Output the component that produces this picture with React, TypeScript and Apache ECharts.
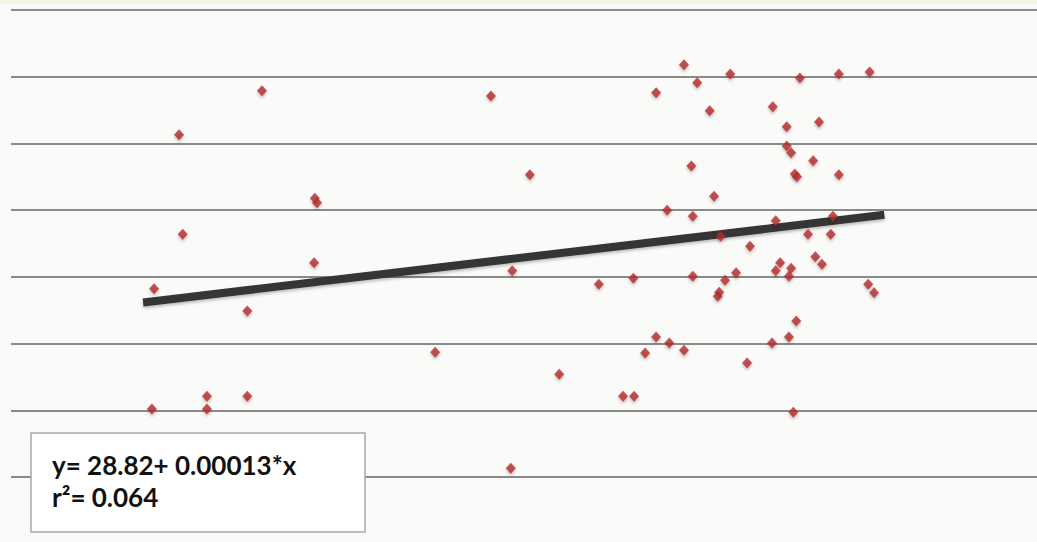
import React, { useEffect, useRef } from "react";
import * as echarts from "echarts";

// Scatter data
const X_VALUES = [
  61400, 72700, 61900, 58000, 79900, 80200, 79800, 70700, 57700, 65200, 65200, 70700,
  96300, 106800, 103900, 109200, 106600, 113200, 118600, 121900, 123400,
  130200, 136500, 132000, 146000, 151300, 155500, 126400, 133700, 142300, 144200, 148600,
  144200, 144800, 147800, 131200, 145300, 145600, 151300, 134300, 127900, 131400, 142700,
  150500, 147100, 150200, 135200, 139200,
  123300, 131400, 135800, 137300, 135000, 134800, 143300, 142700, 144800, 144500, 148100,
  149000, 155300, 156100, 145500, 144500, 142200, 126400, 128200, 124900, 130200, 138800, 145100,
];
const Y_VALUES = [
  61.3, 67.9, 46.4, 38.2, 51.8, 51.1, 42.1, 34.9, 20.2, 22.1, 20.2, 22.1,
  28.7, 40.9, 67.1, 55.3, 11.3, 25.4, 38.9, 22.1, 22.1,
  71.8, 70.4, 69.1, 69.8, 70.4, 70.7, 67.6, 64.9, 65.5, 62.5, 63.2,
  59.6, 58.6, 57.4, 56.6, 55.4, 55.0, 55.3, 52.1, 50.0, 49.1, 48.4,
  49.1, 46.4, 46.4, 46.1, 44.6,
  39.8, 40.1, 39.5, 40.6, 37.7, 37.1, 42.1, 40.9, 41.3, 40.1, 43.0,
  41.9, 38.9, 37.6, 33.4, 31.0, 30.1, 31.0, 30.1, 28.6, 29.0, 27.1, 19.7,
];

// Regression
const INTERCEPT = 28.82;
const SLOPE = 0.00013;
const LINE_X_RANGE = [56500, 157500];
const EQUATION_LINES = ["y= 28.82+ 0.00013*x", "r\u00B2= 0.064"];

// Axis ranges
const X_RANGE = [38500, 178300];
const Y_RANGE = [10, 80];
const Y_INTERVAL = 10;

export default function App() {
  const ref = useRef<HTMLDivElement>(null);

  useEffect(() => {
    if (!ref.current) return;
    const chart = echarts.init(ref.current, undefined, { renderer: "svg" });
    const points = X_VALUES.map((x, i) => [x, Y_VALUES[i]]);
    const linePts = LINE_X_RANGE.map((x) => [x, INTERCEPT + SLOPE * x]);
    chart.setOption({
      animation: false,
      backgroundColor: "#fafaf9",
      grid: { left: 11, right: 0, top: 10, bottom: 65 },
      xAxis: {
        type: "value",
        min: X_RANGE[0],
        max: X_RANGE[1],
        axisLine: { show: false },
        axisTick: { show: false },
        axisLabel: { show: false },
        splitLine: { show: false },
      },
      yAxis: {
        type: "value",
        min: Y_RANGE[0],
        max: Y_RANGE[1],
        interval: Y_INTERVAL,
        axisLine: { show: false },
        axisTick: { show: false },
        axisLabel: { show: false },
        splitLine: {
          show: true,
          lineStyle: { color: "#8a8a8a", width: 2 },
        },
      },
      series: [
        {
          type: "line",
          data: linePts,
          symbol: "none",
          z: 2,
          lineStyle: {
            color: "#343434",
            width: 8,
            cap: "butt",
            shadowColor: "rgba(0,0,0,0.25)",
            shadowBlur: 3,
            shadowOffsetY: 2,
          },
        },
        {
          type: "scatter",
          data: points,
          symbol: "diamond",
          symbolSize: [10, 11],
          z: 3,
          itemStyle: {
            color: "#b3292b",
            shadowColor: "rgba(0,0,0,0.3)",
            shadowBlur: 3,
            shadowOffsetY: 2,
          },
        },
      ],
      graphic: [
        {
          type: "rect",
          z: 100,
          shape: { x: 0, y: 0, width: 1037, height: 4 },
          style: { fill: "#f6f4e4" },
        },
        {
          type: "rect",
          z: 100,
          shape: { x: 31, y: 433, width: 334, height: 99 },
          style: { fill: "#ffffff", stroke: "#a8a8a8", lineWidth: 1.5 },
        },
        {
          type: "text",
          z: 101,
          x: 52,
          y: 465,
          style: {
            text: EQUATION_LINES[0],
            font: "bold 26px Lato",
            fill: "#111111",
            verticalAlign: "middle",
          },
        },
        {
          type: "text",
          z: 101,
          x: 52,
          y: 497,
          style: {
            text: EQUATION_LINES[1],
            font: "bold 26px Lato",
            fill: "#111111",
            verticalAlign: "middle",
          },
        },
      ],
    });
    return () => chart.dispose();
  }, []);

  return (
    <div
      ref={ref}
      style={{ position: "fixed", left: 0, top: 0, width: 1037, height: 542 }}
    />
  );
}
